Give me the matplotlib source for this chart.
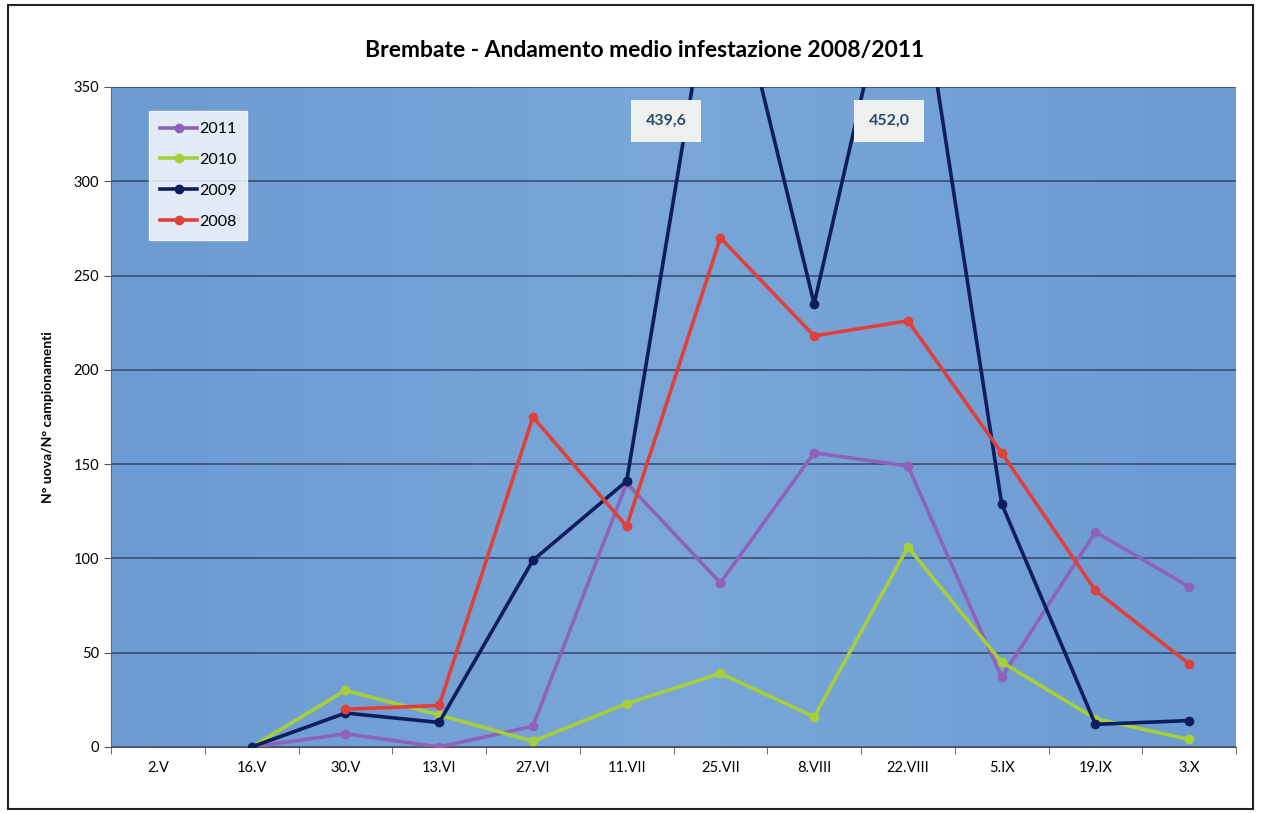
import matplotlib
matplotlib.use("Agg")
import matplotlib.pyplot as plt
import numpy as np

dates = ["2.V", "16.V", "30.V", "13.VI", "27.VI", "11.VII", "25.VII",
         "8.VIII", "22.VIII", "5.IX", "19.IX", "3.X"]
nan = np.nan
y2011 = [nan, 0, 7, 0, 11, 140, 87, 156, 149, 37, 114, 85]
y2010 = [nan, 0, 30, 17, 3, 23, 39, 16, 106, 45, 15, 4]
y2009 = [nan, 0, 18, 13, 99, 141, 439.6, 235, 452.0, 129, 12, 14]
y2008 = [nan, nan, 20, 22, 175, 117, 270, 218, 226, 156, 83, 44]
peak_labels = ["439,6", "452,0"]

series = [("2011", y2011, "#8e62b8"), ("2010", y2010, "#a6cf3a"),
          ("2009", y2009, "#0d1d5e"), ("2008", y2008, "#e0403a")]

plt.rcParams["font.family"] = ["Lato", "DejaVu Sans"]

fig = plt.figure(figsize=(12.62, 8.13), dpi=100)
ax = fig.add_axes([0.088, 0.0812, 0.8914, 0.8118])

# gradient-ish blue plot area
grad = np.linspace(0, 1, 256).reshape(1, -1)
ax.imshow(grad, extent=[-0.5, len(dates) - 0.5, 0, 350], aspect="auto",
          cmap=matplotlib.colors.LinearSegmentedColormap.from_list(
              "bg", ["#6c9bd2", "#7aa7d8", "#6c9bd2"]), zorder=0)

x = np.arange(len(dates))
for name, ys, c in series:
    ax.plot(x, ys, color=c, lw=2.6, marker="o", ms=6, label=name, zorder=3)

ax.set_xlim(-0.5, len(dates) - 0.5)
ax.set_ylim(0, 350)
ax.set_yticks(range(0, 351, 50))
ax.set_xticks(x)
ax.set_xticklabels(dates, fontsize=10.5)
ax.set_xticks(np.arange(-0.5, len(dates), 1), minor=True)
ax.tick_params(axis="x", which="major", length=0, pad=10)
ax.tick_params(axis="x", which="minor", length=5, color="#555555")
ax.tick_params(axis="y", labelsize=10.5, length=5, color="#555555")
ax.grid(axis="y", color="#34466e", lw=1.1, zorder=1)
for s in ["top", "right"]:
    ax.spines[s].set_visible(False)
ax.spines["left"].set_color("#666666")
ax.spines["bottom"].set_color("#555555")
ax.set_ylabel("N° uova/N° campionamenti", fontsize=10, fontweight="bold", labelpad=14)

# value labels for the off-scale peaks
for xi, lab in [(5.42, peak_labels[0]), (7.8, peak_labels[1])]:
    ax.text(xi, 332, lab, ha="center", va="center", fontsize=11.5, fontweight="bold",
            color="#2b4a6b", zorder=5,
            bbox=dict(boxstyle="square,pad=0.9", fc="#eef0f0", ec="none"))

leg = ax.legend(loc="upper left", bbox_to_anchor=(0.034, 0.964), fontsize=11.5,
                frameon=True, fancybox=False, borderpad=0.7, labelspacing=1.05,
                handlelength=2.3, handletextpad=0.1, borderaxespad=0)
leg.get_frame().set_facecolor("white")
leg.get_frame().set_edgecolor("white")
leg.set_zorder(6)

fig.text(0.511, 0.938, "Brembate - Andamento medio infestazione 2008/2011",
         ha="center", va="center", fontsize=16.5, fontweight="bold")

# outer chart frame
fig.patches.append(plt.Rectangle((0.0065, 0.005), 0.986, 0.989, transform=fig.transFigure,
                                 fill=False, ec="#222222", lw=1.5))

fig.savefig("out.png", dpi=100)
